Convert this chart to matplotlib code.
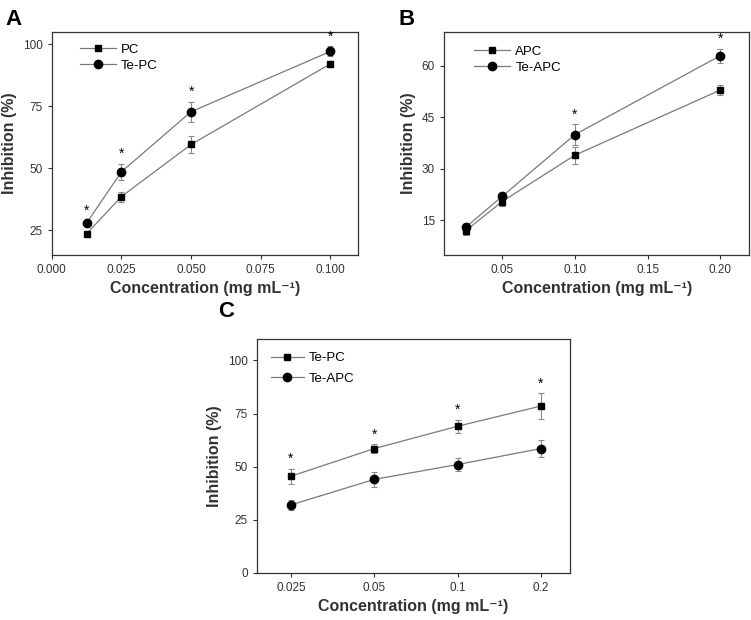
import numpy as np
import matplotlib.pyplot as plt

plt.rcParams['font.family'] = ['Liberation Sans', 'DejaVu Sans']

# panel A
conc_a = [0.0125, 0.025, 0.05, 0.1]
pc = [23.5, 38.5, 59.5, 92.0]
pc_err = [0.8, 2.0, 3.5, 1.2]
te_pc = [27.8, 48.5, 72.7, 97.0]
te_pc_err = [1.0, 3.2, 4.0, 2.0]
sig_a = [True, True, True, True]

# panel B
conc_b = [0.025, 0.05, 0.1, 0.2]
apc = [12.0, 20.5, 34.0, 53.0]
apc_err = [1.2, 1.2, 2.5, 1.5]
te_apc = [13.0, 22.0, 40.0, 63.0]
te_apc_err = [0.8, 1.0, 3.0, 2.0]
sig_b = [False, False, True, True]

# panel C
conc_c = ['0.025', '0.05', '0.1', '0.2']
c_te_pc = [45.5, 58.5, 69.0, 78.5]
c_te_pc_err = [3.5, 2.0, 3.0, 6.0]
c_te_apc = [32.0, 44.0, 51.0, 58.5]
c_te_apc_err = [2.5, 3.5, 3.0, 4.0]
sig_c = [True, True, True, True]

LINE = '#7a7a7a'


def serie(ax, x, y, err, marker, ms, label):
    cont = ax.errorbar(x, y, yerr=err, color=LINE, lw=0.9, ecolor='#8a8a8a',
                       elinewidth=0.8, capsize=2.5, capthick=0.8, marker=marker,
                       ms=ms, mfc='black', mec='black', zorder=3)
    # so a linha com marcador vai para a legenda
    cont[0].set_label(label)
    return cont[0]


def estrelas(ax, x, y, err, sig, off=7):
    for xi, yi, ei, s in zip(x, y, err, sig):
        if s:
            ax.annotate('*', (xi, yi + ei), xytext=(0, off),
                        textcoords='offset points', ha='center', va='center',
                        fontsize=10)


def estilo(ax, handles, anchor, spacing=0.4, hl=3.0):
    for s in ax.spines.values():
        s.set_color('#333333')
        s.set_linewidth(0.9)
    ax.tick_params(direction='out', length=3, width=0.8, labelsize=8.5,
                   colors='#333333', labelcolor='#333333')
    ax.set_xlabel('Concentration (mg mL⁻¹)', fontsize=11.5, fontweight='bold',
                  color='#333333', labelpad=4)
    ax.set_ylabel('Inhibition (%)', fontsize=11.5, fontweight='bold',
                  color='#333333', labelpad=4)
    ax.legend(handles=handles, loc='upper left', bbox_to_anchor=anchor,
              frameon=False, fontsize=9.5, handlelength=hl, handletextpad=0.4,
              borderaxespad=0, borderpad=0, labelspacing=spacing)


fig = plt.figure(figsize=(7.51, 6.2), dpi=100)

axA = fig.add_axes([0.069, 0.589, 0.408, 0.360])
h1 = serie(axA, conc_a, pc, pc_err, 's', 5, 'PC')
h2 = serie(axA, conc_a, te_pc, te_pc_err, 'o', 6, 'Te-PC')
estrelas(axA, conc_a, te_pc, te_pc_err, sig_a)
axA.set_xlim(0, 0.11)
axA.set_ylim(15, 105)
axA.set_xticks([0, 0.025, 0.05, 0.075, 0.1])
axA.set_xticklabels(['0.000', '0.025', '0.050', '0.075', '0.100'])
axA.set_yticks([25, 50, 75, 100])
estilo(axA, [h1, h2], (0.092, 0.946), spacing=0.3, hl=2.7)

axB = fig.add_axes([0.591, 0.589, 0.407, 0.360])
h1 = serie(axB, conc_b, apc, apc_err, 's', 5, 'APC')
h2 = serie(axB, conc_b, te_apc, te_apc_err, 'o', 6, 'Te-APC')
estrelas(axB, conc_b, te_apc, te_apc_err, sig_b)
axB.set_xlim(0.01, 0.22)
axB.set_ylim(5, 70)
axB.set_xticks([0.05, 0.1, 0.15, 0.2])
axB.set_xticklabels(['0.05', '0.10', '0.15', '0.20'])
axB.set_yticks([15, 30, 45, 60])
estilo(axB, [h1, h2], (0.10, 0.937), spacing=0.3, hl=2.7)

axC = fig.add_axes([0.342, 0.076, 0.417, 0.377])
pos = np.arange(len(conc_c))
h1 = serie(axC, pos, c_te_pc, c_te_pc_err, 's', 5, 'Te-PC')
h2 = serie(axC, pos, c_te_apc, c_te_apc_err, 'o', 6, 'Te-APC')
estrelas(axC, pos, c_te_pc, c_te_pc_err, sig_c)
axC.set_xlim(-0.41, 3.35)
axC.set_ylim(0, 110)
axC.set_xticks(pos)
axC.set_xticklabels(conc_c)
axC.set_yticks([0, 25, 50, 75, 100])
estilo(axC, [h1, h2], (0.045, 0.944), spacing=0.6, hl=2.5)

fig.text(0.007, 0.985, 'A', fontsize=16, fontweight='bold', va='top')
fig.text(0.531, 0.985, 'B', fontsize=16, fontweight='bold', va='top')
fig.text(0.291, 0.515, 'C', fontsize=16, fontweight='bold', va='top')

fig.savefig('out.png', dpi=100)
